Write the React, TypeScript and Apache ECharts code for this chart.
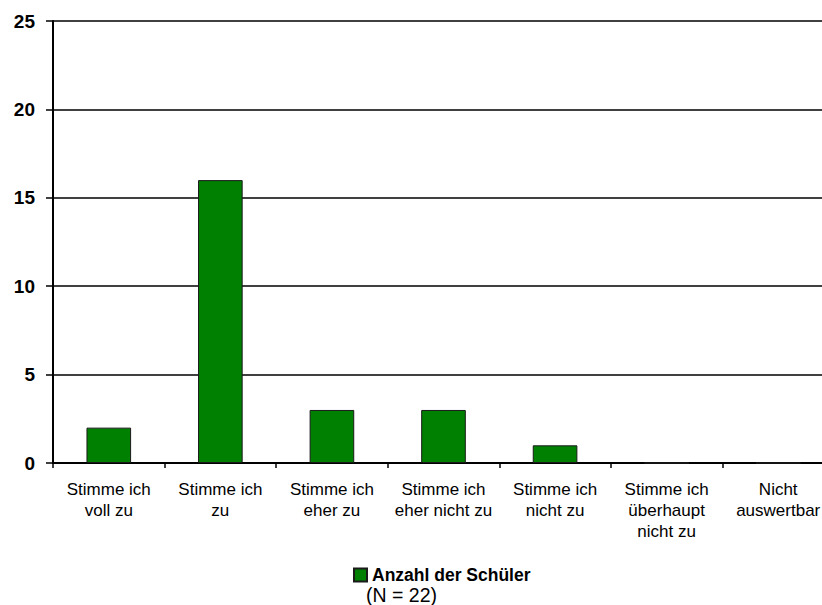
import React, { useEffect, useRef } from "react";
import * as echarts from "echarts";

const categories = [
  "Stimme ich\nvoll zu",
  "Stimme ich\nzu",
  "Stimme ich\neher zu",
  "Stimme ich\neher nicht zu",
  "Stimme ich\nnicht zu",
  "Stimme ich\nüberhaupt\nnicht zu",
  "Nicht\nauswertbar",
];
const values = [2, 16, 3, 3, 1, 0, 0];
const seriesName = "Anzahl der Schüler";
const noteText = "(N = 22)";

const FONT = "Liberation Sans, Arial, sans-serif";

export default function App() {
  const ref = useRef<HTMLDivElement>(null);
  useEffect(() => {
    document.body.style.margin = "0";
    const chart = echarts.init(ref.current!, undefined, { renderer: "svg" });
    chart.setOption({
      animation: false,
      backgroundColor: "#ffffff",
      textStyle: { fontFamily: FONT },
      grid: { left: 53, right: 0, top: 21, bottom: 142 },
      legend: {
        data: [seriesName],
        left: 348,
        top: 566,
        padding: [0, 5, 0, 5],
        itemWidth: 13,
        itemHeight: 13,
        itemGap: 10,
        icon: "rect",
        textStyle: { fontSize: 17.5, fontWeight: "bold", color: "#000", fontFamily: FONT },
      },
      graphic: [
        {
          type: "text",
          left: 366,
          top: 585,
          style: { text: noteText, fontSize: 19.5, fill: "#000", fontFamily: FONT },
        },
      ],
      xAxis: {
        type: "category",
        data: categories,
        axisLine: { lineStyle: { color: "#000", width: 2 } },
        axisTick: { show: true, length: 5, lineStyle: { color: "#000", width: 1.5 } },
        axisLabel: {
          interval: 0,
          margin: 16,
          fontSize: 17,
          lineHeight: 21,
          color: "#000",
          fontFamily: FONT,
        },
      },
      yAxis: {
        type: "value",
        min: 0,
        max: 25,
        interval: 5,
        axisLine: { show: true, lineStyle: { color: "#000", width: 2 } },
        axisTick: { show: true, length: 7, lineStyle: { color: "#000", width: 1.5 } },
        axisLabel: {
          margin: 18,
          fontSize: 19,
          fontWeight: "bold",
          color: "#000",
          fontFamily: FONT,
        },
        splitLine: { lineStyle: { color: "#000", width: 1.5 } },
      },
      series: [
        {
          name: seriesName,
          type: "bar",
          data: values,
          barWidth: "40%",
          itemStyle: { color: "#008000", borderColor: "#1a1a1a", borderWidth: 1 },
        },
      ],
    });
    return () => chart.dispose();
  }, []);
  return (
    <div style={{ width: 822, height: 605, overflow: "hidden", position: "relative" }}>
      <div ref={ref} style={{ width: 834, height: 605 }} />
    </div>
  );
}
